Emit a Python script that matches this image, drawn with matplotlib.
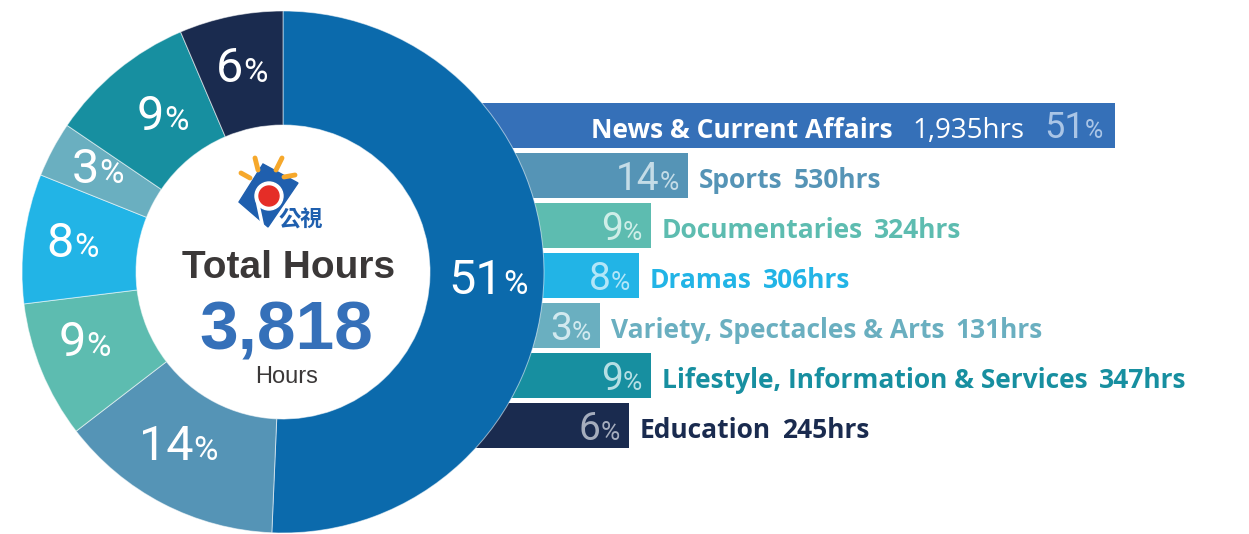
import matplotlib
matplotlib.use("Agg")
import numpy as np
import matplotlib.pyplot as plt
from matplotlib.offsetbox import TextArea, HPacker, AnnotationBbox
from matplotlib.patches import Circle, Polygon

# ---------------- data ----------------
categories = ["News & Current Affairs", "Sports", "Documentaries", "Dramas",
              "Variety, Spectacles & Arts", "Lifestyle, Information & Services", "Education"]
hours = [1935, 530, 324, 306, 131, 347, 245]
percent_labels = ["51", "14", "9", "8", "3", "9", "6"]
hour_labels = ["1,935hrs", "530hrs", "324hrs", "306hrs", "131hrs", "347hrs", "245hrs"]
bar_lengths = [675, 248, 211, 199, 160, 211, 189]   # visual bar extents as drawn in the chart
total_label = "3,818"

# ---------------- styles ----------------
slice_colors = ["#0b6aac", "#5594b6", "#5dbcb0", "#22b4e6", "#6aafc0", "#178fa0", "#1a2b4f"]
bar_colors = ["#3570b8", "#5594b6", "#5dbcb0", "#22b4e6", "#6aafc0", "#178fa0", "#1a2b4f"]
pct_tints = ["#aac5e6", "#c4dce7", "#cfeee8", "#b3e6f8", "#d2e9ef", "#b6dfe4", "#a5adbd"]
# per-label nudges (pixels) of the donut percentage labels
label_nudge = [(0, 0), (-10, -12), (-9, -12), (-7, -7), (-4, -11), (10, -2), (0, -7)]

PCT_FONT = ["Roboto", "DejaVu Sans"]
LBL_FONT = ["Open Sans", "DejaVu Sans"]
ARIAL = ["Liberation Sans", "DejaVu Sans"]

W, H = 1249, 534
fig = plt.figure(figsize=(W / 100, H / 100), dpi=100)
ax = fig.add_axes([0, 0, 1, 1])

cx, cy, R, r_in = 283, 272, 261, 147
bar_left = 440
bar_h = 45
ys = [125.5 + 50 * i for i in range(len(categories))]

ax.barh(ys, bar_lengths, height=bar_h, left=bar_left, color=bar_colors, zorder=1)

wedges, _ = ax.pie(hours, colors=slice_colors, startangle=-90, counterclock=True,
                   radius=R, center=(cx, cy), frame=False,
                   wedgeprops=dict(width=R - r_in, edgecolor=(1, 1, 1, 0.55),
                                   linewidth=0.7, zorder=3))

ax.set_xlim(0, W)
ax.set_ylim(H, 0)
ax.set_aspect("auto")
ax.axis("off")


def pct_box(num, color, big, small, sep=0):
    a = TextArea(num, textprops=dict(color=color, fontsize=big, family=PCT_FONT))
    b = TextArea("%", textprops=dict(color=color, fontsize=small, family=PCT_FONT))
    return HPacker(children=[a, b], align="baseline", pad=0, sep=sep)


def place(box, xy, align):
    ab = AnnotationBbox(box, xy, xycoords="data", frameon=False,
                        box_alignment=align, pad=0, zorder=6)
    ax.add_artist(ab)


# donut percentage labels
r_lab = 205
for w, p, (dx, dy) in zip(wedges, percent_labels, label_nudge):
    t = np.deg2rad((w.theta1 + w.theta2) / 2)
    x = cx + r_lab * np.cos(t) + dx
    y = cy + r_lab * np.sin(t) + 5 + dy
    place(pct_box(p, "white", 35, 24, sep=0), (x, y), (0.5, 0.5))

# bar labels
lab_fs = 19
for i, (cat, hl, p) in enumerate(zip(categories, hour_labels, percent_labels)):
    y = ys[i]
    end = bar_left + bar_lengths[i]
    if i == 0:
        name = TextArea(cat, textprops=dict(color="white", fontsize=lab_fs,
                                            family=LBL_FONT, weight="bold"))
        hrs = TextArea(hl, textprops=dict(color="white", fontsize=20, family=LBL_FONT))
        pb = pct_box(p, pct_tints[i], 26, 18)
        box = HPacker(children=[name, hrs, pb], align="baseline", pad=0, sep=14)
        place(box, (end - 12, y + 2), (1, 0.5))
    else:
        place(pct_box(p, pct_tints[i], 28, 19), (end - 9, y + 4), (1, 0.5))
        name = TextArea(cat, textprops=dict(color=bar_colors[i], fontsize=lab_fs,
                                            family=LBL_FONT, weight="bold"))
        hrs = TextArea(hl, textprops=dict(color=bar_colors[i], fontsize=lab_fs,
                                          family=LBL_FONT, weight="bold"))
        box = HPacker(children=[name, hrs], align="baseline", pad=0, sep=8)
        place(box, (end + 11, y + 5), (0, 0.5))

# center texts
ax.text(289, 278, "Total Hours", family=ARIAL, weight="bold", fontsize=28,
        color="#3b3838", ha="center", va="baseline", zorder=6)
ax.text(286, 350, total_label, family=ARIAL, weight="bold", fontsize=50,
        color="#3570b9", ha="center", va="baseline", zorder=6)
ax.text(287, 383, "Hours", family=ARIAL, fontsize=17,
        color="#3b3838", ha="center", va="baseline", zorder=6)

# logo (simplified)
logo_blue = "#1f5fae"
ax.add_patch(Polygon([(263, 164), (298, 183), (268, 227), (239, 202)], closed=True,
                     color=logo_blue, zorder=6))
ax.add_patch(Circle((269, 196), 14, color="white", zorder=7))
ax.add_patch(Circle((269, 196), 10, color="#e52d27", zorder=8))
ax.plot([257, 263], [200, 228], color="white", lw=2.5, zorder=7)
rays = [((241, 173), (250, 178)), ((255, 158), (258, 170)),
        ((282, 158), (276, 170)), ((284, 177), (295, 175))]
for (x0, y0), (x1, y1) in rays:
    ax.plot([x0, x1], [y0, y1], color="#f6a82b", lw=3.5, solid_capstyle="round", zorder=6)
ax.text(301, 220, "公視", family=["Noto Sans CJK TC", "DejaVu Sans"], fontsize=16,
        weight="bold", color=logo_blue, ha="center", va="center", zorder=8)

fig.savefig("out.png", dpi=100)
